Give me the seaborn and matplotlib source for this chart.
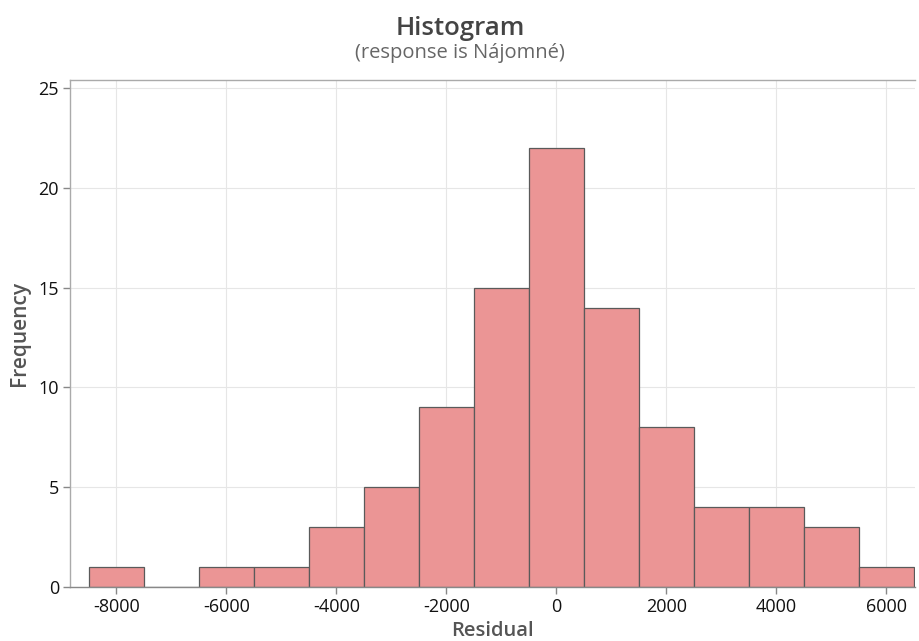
import matplotlib
matplotlib.use("Agg")
import matplotlib.pyplot as plt
import seaborn as sns
import numpy as np
import pandas as pd

# Data
bin_centers = [-8000, -7000, -6000, -5000, -4000, -3000, -2000, -1000, 0, 1000, 2000, 3000, 4000, 5000, 6000]
counts = [1, 0, 1, 1, 3, 5, 9, 15, 22, 14, 8, 4, 4, 3, 1]
x_ticks = [-8000, -6000, -4000, -2000, 0, 2000, 4000, 6000]
y_ticks = [0, 5, 10, 15, 20, 25]

df = pd.DataFrame({"Residual": bin_centers, "Frequency": counts})
bin_width = 1000
edges = [c - bin_width / 2 for c in bin_centers] + [bin_centers[-1] + bin_width / 2]

sns.set_theme(style="white")
plt.rcParams['font.family'] = ['Open Sans', 'DejaVu Sans']

fig = plt.figure(figsize=(9.2, 6.41), dpi=100)
ax = fig.add_axes([0.0761, 0.0842, 0.9946 - 0.0761, 0.8752 - 0.0842])

sns.histplot(data=df, x="Residual", weights="Frequency", bins=edges, ax=ax,
             color="#EB9595", alpha=1.0, edgecolor="#5a5a5a", linewidth=0.9)

ax.set_xlim(-8840, 6520)
ax.set_ylim(0, 25.4)
ax.set_xticks(x_ticks)
ax.set_yticks(y_ticks)
ax.set_xticklabels([str(t) for t in x_ticks], fontsize=13, fontweight="medium", color="#111111")
ax.set_yticklabels([str(t) for t in y_ticks], fontsize=13, fontweight="medium", color="#111111")
ax.grid(True, color="#E6E6E6", linewidth=0.8)
ax.set_axisbelow(True)
for s in ax.spines.values():
    s.set_color("#AAAAAA")
    s.set_linewidth(1.0)
ax.spines['right'].set_visible(False)
ax.spines['bottom'].set_color("#888888")
ax.tick_params(axis='both', which='both', direction='out', length=5, width=1, color="#888888",
               bottom=True, left=True, pad=3)

ax.set_xlabel("Residual", fontsize=14.5, fontweight="semibold", color="#555555", labelpad=3.5)
ax.set_ylabel("Frequency", fontsize=15, fontweight="semibold", color="#555555", labelpad=6)

fig.text(0.5, 0.956, "Histogram", ha="center", va="center", fontsize=18.5, fontweight="semibold", color="#444444")
fig.text(0.5, 0.917, "(response is Nájomné)", ha="center", va="center", fontsize=14.5, color="#666666")

fig.savefig("out.png", dpi=100)
